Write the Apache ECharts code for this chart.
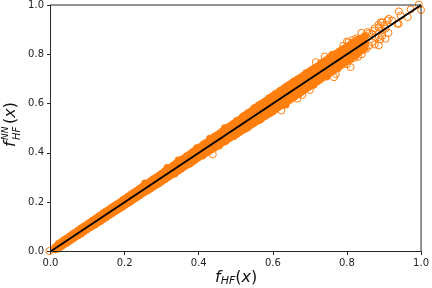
<!DOCTYPE html>
<html>
<head>
<meta charset="utf-8">
<style>html,body{margin:0;padding:0;background:#fff}#c{width:432px;height:288px}</style>
<script src="https://cdn.jsdelivr.net/npm/echarts@6/dist/echarts.min.js"></script>
</head>
<body>
<div id="c"></div>
<script>
const tickLabels = [0, 0.2, 0.4, 0.6, 0.8, 1.0];
const bandX = [.018,.03,.045,.06,.075,.09,.105,.12,.135,.15,.165,.18,.195,.21,.225,.24,.255,.27,.285,.30,.315,.33,.345,.36,.375,.39,.405,.42,.435,.45,.465,.48,.495,.51,.525,.54,.555,.57,.585,.60,.615,.63,.645,.66,.675,.69,.705,.72,.735,.75,.765,.78,.795,.81,.825,.84];
const bandMid = [.018,.031,.044,.061,.076,.089,.106,.121,.134,.151,.166,.179,.196,.211,.224,.241,.256,.269,.286,.301,.314,.331,.346,.359,.376,.391,.404,.421,.436,.449,.466,.481,.494,.511,.526,.539,.556,.571,.584,.601,.616,.629,.646,.661,.674,.691,.706,.719,.736,.751,.764,.781,.796,.809,.826,.839];
const bandHigh = [.024,.040,.055,.071,.086,.101,.117,.132,.147,.163,.178,.193,.209,.224,.239,.255,.270,.286,.301,.316,.332,.348,.363,.378,.394,.410,.425,.441,.457,.473,.489,.505,.520,.536,.553,.568,.585,.600,.615,.632,.646,.662,.677,.693,.706,.722,.737,.751,.767,.783,.797,.812,.826,.840,.852,.864];
const bandLow = [.011,.021,.036,.051,.065,.080,.095,.109,.123,.138,.153,.167,.182,.197,.212,.226,.241,.255,.270,.284,.299,.313,.328,.343,.357,.371,.387,.400,.414,.428,.442,.456,.470,.484,.497,.512,.526,.541,.555,.570,.585,.600,.614,.630,.645,.660,.676,.690,.706,.720,.735,.751,.767,.780,.797,.815];
const bandX2 = [.012,.0225,.0375,.0525,.0675,.0825,.0975,.1125,.1275,.1425,.1575,.1725,.1875,.2025,.2175,.2325,.2475,.2625,.2775,.2925,.3075,.3225,.3375,.3525,.3675,.3825,.3975,.4125,.4275,.4425,.4575,.4725,.4875,.5025,.5175,.5325,.5475,.5625,.5775,.5925,.6075,.6225,.6375,.6525,.6675,.6825,.6975,.7125,.7275,.7425,.7575,.7725,.7875,.8025,.8175,.8325,.8475];
const bandMid2 = [.012,.023,.037,.053,.067,.083,.097,.113,.127,.143,.157,.173,.187,.203,.217,.233,.247,.263,.277,.293,.307,.323,.337,.353,.367,.383,.397,.413,.427,.443,.457,.473,.487,.503,.517,.533,.547,.563,.577,.593,.607,.623,.637,.653,.667,.683,.697,.713,.727,.743,.757,.773,.787,.803,.817,.833,.847];
const bandHigh2 = [.016,.032,.048,.063,.078,.094,.109,.125,.139,.156,.170,.186,.200,.216,.232,.246,.263,.277,.294,.308,.325,.339,.356,.372,.387,.403,.418,.435,.449,.467,.481,.498,.512,.530,.544,.562,.576,.594,.608,.624,.640,.654,.670,.684,.700,.714,.729,.744,.759,.775,.790,.804,.820,.834,.847,.860,.873];
const bandLow2 = [.008,.014,.029,.044,.059,.072,.088,.102,.117,.131,.146,.160,.174,.190,.204,.219,.234,.247,.263,.276,.291,.306,.320,.335,.350,.363,.379,.392,.407,.420,.435,.447,.463,.476,.491,.504,.519,.533,.548,.561,.577,.592,.606,.622,.637,.652,.667,.682,.697,.712,.728,.742,.759,.773,.790,.808,.825];
const bumpX = [.13,.21,.255,.285,.315,.335,.345,.375,.395,.41,.43,.455,.47,.495,.52,.53,.55,.565,.59,.60,.62,.635,.655,.67,.69,.71,.73,.745,.76,.775];
const bumpY = [.142,.198,.277,.271,.340,.315,.370,.355,.420,.388,.458,.429,.501,.468,.549,.501,.582,.533,.623,.568,.652,.595,.688,.638,.724,.675,.765,.709,.798,.742];
const ringX = [-.003,.438,.623,.666,.68,.70,.716,.74,.765,.77,.79,.80,.80,.804,.81,.815,.818,.82,.825,.828,.83,.83,.839,.84,.841,.845,.85,.85,.852,.855,.86,.86,.868,.868,.87,.875,.875,.877,.885,.886,.886,.886,.89,.891,.895,.895,.895,.90,.904,.904,.909,.912,.913,.922,.936,.94,.94,.945,.964,.972,.994,1.0];
const ringY = [.002,.394,.572,.62,.635,.655,.768,.791,.707,.72,.835,.76,.852,.849,.748,.858,.849,.785,.865,.816,.86,.79,.887,.80,.843,.87,.875,.84,.822,.89,.885,.835,.883,.849,.895,.905,.84,.87,.92,.836,.87,.91,.86,.93,.897,.875,.93,.917,.863,.904,.937,.887,.944,.937,.924,.924,.974,.957,.951,.982,1.002,.98];
const lineX = [0, 1];
const lineY = [0, 1];

const orange = '#ff7f0e', ink = '#262626';
const zip = (a, b) => a.map((v, i) => [v, b[i]]);
const filled = (xs, ys) => ({
  type: 'scatter', data: zip(xs, ys), symbolSize: 7.5, silent: true, clip: false,
  itemStyle: { color: orange, opacity: 1 }
});
const axis = (pos) => ({
  type: 'value', min: 0, max: 1, interval: 0.2, position: pos,
  splitLine: { show: false },
  axisLine: { show: true, onZero: false, lineStyle: { color: ink, width: 1 } },
  axisTick: { show: true, length: 3.5, lineStyle: { color: ink, width: 1 } },
  axisLabel: { color: '#222', fontFamily: 'DejaVu Sans', fontSize: 10, margin: 6.5,
    formatter: v => v.toFixed(1) }
});
const f = 'DejaVu Sans';
const chart = echarts.init(document.getElementById('c'), null, { renderer: 'canvas' });
chart.setOption({
  animation: false,
  backgroundColor: '#fff',
  grid: { left: 50.5, right: 10.5, top: 4.5, bottom: 36.5, show: true, borderColor: ink, borderWidth: 1, backgroundColor: 'transparent', z: 10 },
  xAxis: axis('bottom'),
  yAxis: axis('left'),
  series: [
    filled(bandX, bandMid), filled(bandX, bandHigh), filled(bandX, bandLow),
    filled(bandX2, bandMid2), filled(bandX2, bandHigh2), filled(bandX2, bandLow2),
    filled(bumpX, bumpY),
    { type: 'scatter', data: zip(ringX, ringY), symbolSize: 7, silent: true, clip: false,
      itemStyle: { color: 'transparent', borderColor: orange, borderWidth: 1, opacity: 1 } },
    { type: 'line', data: zip(lineX, lineY), symbol: 'none', silent: true, z: 5,
      lineStyle: { color: '#000', width: 1.9 } }
  ],
  graphic: [
    { type: 'text', left: 215, top: 270,
      style: { text: '{i|f}{s|HF}{n|(}{i|x}{n|)}', rich: {
        i: { fontFamily: f, fontStyle: 'italic', fontSize: 16, fill: '#111' },
        n: { fontFamily: f, fontSize: 16, fill: '#111' },
        s: { fontFamily: f, fontStyle: 'italic', fontSize: 11, fill: '#111', padding: [6, 0, 0, 0] }
      } } },
    { type: 'group', x: 14, y: 128, rotation: Math.PI / 2, children: [
      { type: 'text', x: -19, y: -3, style: { text: 'f', fontFamily: f, fontStyle: 'italic', fontSize: 16, fill: '#111', textVerticalAlign: 'middle' } },
      { type: 'text', x: -12, y: 3, style: { text: 'HF', fontFamily: f, fontStyle: 'italic', fontSize: 10, fill: '#111', textVerticalAlign: 'middle' } },
      { type: 'text', x: -12, y: -8, style: { text: 'NN', fontFamily: f, fontStyle: 'italic', fontSize: 9, fill: '#111', textVerticalAlign: 'middle' } },
      { type: 'text', x: 4, y: -3, style: { text: '{n|(}{i|x}{n|)}', textVerticalAlign: 'middle', rich: {
        i: { fontFamily: f, fontStyle: 'italic', fontSize: 16, fill: '#111' },
        n: { fontFamily: f, fontSize: 16, fill: '#111' }
      } } }
    ] }
  ]
});
</script>
</body>
</html>
